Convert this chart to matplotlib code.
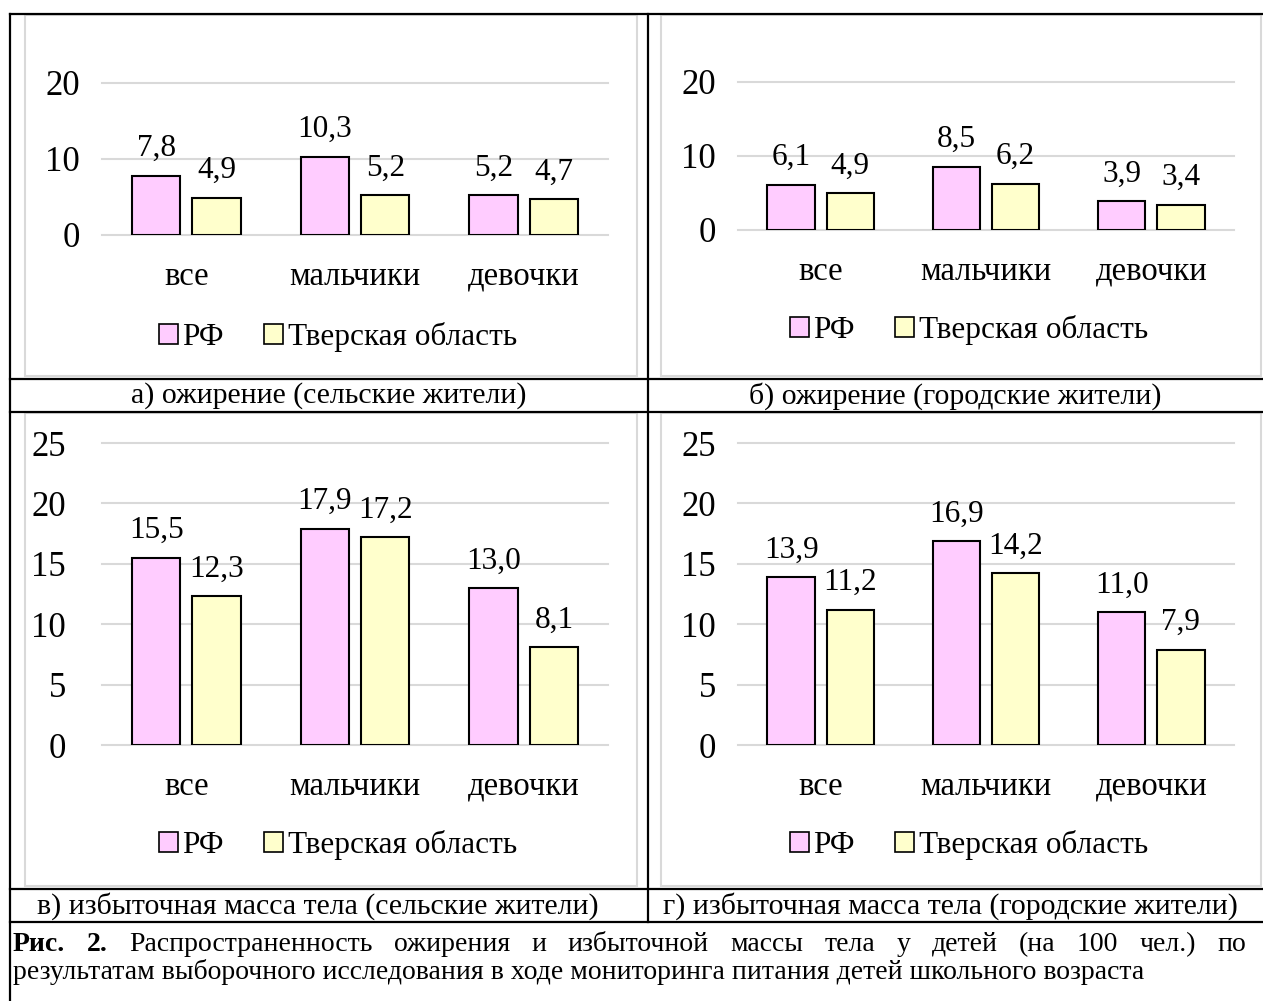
import matplotlib
matplotlib.use("Agg")
import matplotlib.pyplot as plt
from matplotlib.patches import Patch, Rectangle
from matplotlib.lines import Line2D

plt.rcParams["font.family"] = ["Liberation Serif", "DejaVu Serif"]

W, H = 1263, 1001

categories = ["все", "мальчики", "девочки"]
series_names = ["РФ", "Тверская область"]
colors = ["#FFCCFF", "#FFFFCC"]

rf_a = [7.8, 10.3, 5.2]
tver_a = [4.9, 5.2, 4.7]
rf_b = [6.1, 8.5, 3.9]
tver_b = [4.9, 6.2, 3.4]
rf_c = [15.5, 17.9, 13.0]
tver_c = [12.3, 17.2, 8.1]
rf_d = [13.9, 16.9, 11.0]
tver_d = [11.2, 14.2, 7.9]

panel_titles = [
    "а) ожирение (сельские жители)",
    "б) ожирение (городские жители)",
    "в) избыточная масса тела (сельские жители)",
    "г) избыточная масса тела (городские жители)",
]
caption_bold = "Рис. 2."
caption_line1 = ("Распространенность ожирения и избыточной массы тела у детей "
                 "(на 100 чел.) по")
caption_line2 = ("результатам выборочного исследования в ходе мониторинга "
                 "питания детей школьного возраста")


def fx(x):
    return x / W


def fy(y):
    return 1 - y / H


fig = plt.figure(figsize=(W / 100, H / 100), dpi=100)
fig.patch.set_facecolor("white")

# panel layout in pixels: plot box (left, top, right, bottom), frame, legend centre
panels = [
    dict(rf=rf_a, tv=tver_a, ymax=20, step=10, plot=(102, 82.7, 608, 235),
         frame=(25, 15, 637, 376), legend=(338, 337), ypad=16),
    dict(rf=rf_b, tv=tver_b, ymax=20, step=10, plot=(738, 81.7, 1234, 229.7),
         frame=(661, 15, 1261, 376), legend=(969, 330), ypad=16),
    dict(rf=rf_c, tv=tver_c, ymax=25, step=5, plot=(102, 443, 608, 745),
         frame=(25, 413, 637, 886), legend=(338, 845), ypad=26),
    dict(rf=rf_d, tv=tver_d, ymax=25, step=5, plot=(738, 443, 1234, 745),
         frame=(661, 413, 1261, 886), legend=(969, 845), ypad=16),
]

bar_w = 0.286
offset = 0.179
fs = 22.5

for p in panels:
    l, t, r, b = p["plot"]
    ax = fig.add_axes([fx(l), fy(b), (r - l) / W, (b - t) / H])
    x = list(range(len(categories)))
    for vals, col, sgn in [(p["rf"], colors[0], -1), (p["tv"], colors[1], 1)]:
        xs = [i + sgn * offset for i in x]
        bars = ax.bar(xs, vals, width=bar_w, color=col, edgecolor="black",
                      linewidth=1.5, zorder=3)
        for bar, v in zip(bars, vals):
            ax.annotate(f"{v:.1f}".replace(".", ","),
                        (bar.get_x() + bar.get_width() / 2, v),
                        xytext=(0, 9), textcoords="offset points",
                        ha="center", va="bottom", fontsize=fs)
    ax.set_xlim(-0.5, 2.5)
    ax.set_ylim(0, p["ymax"])
    ax.set_yticks(range(0, p["ymax"] + 1, p["step"]))
    ax.set_xticks(x)
    ax.set_xticklabels(categories, fontsize=23.5)
    ax.tick_params(axis="both", length=0)
    ax.tick_params(axis="y", pad=p["ypad"], labelsize=25)
    ax.tick_params(axis="x", pad=19)
    ax.yaxis.grid(True, color="#d9d9d9", linewidth=1.5, zorder=0)
    ax.set_axisbelow(True)
    for s in ax.spines.values():
        s.set_visible(False)
    ax.patch.set_alpha(0)
    for gl in ax.get_ygridlines():
        gl.set_clip_on(False)

    fl, ft, fr, fb = p["frame"]
    fig.patches.append(Rectangle((fx(fl), fy(fb)), (fr - fl) / W, (fb - ft) / H,
                                 transform=fig.transFigure, fill=False,
                                 edgecolor="#d9d9d9", linewidth=1.5))
    handles = [Patch(facecolor=c, edgecolor="black", linewidth=1.2) for c in colors]
    lx, ly = p["legend"]
    fig.legend(handles, series_names, loc="center", bbox_to_anchor=(fx(lx), fy(ly)),
               ncol=2, frameon=False, fontsize=fs, handlelength=0.6,
               handleheight=0.6, handletextpad=0.15, columnspacing=1.3,
               borderaxespad=0)

# table lines
lw = 1.6
for y in [14, 379, 412, 889, 922]:
    fig.add_artist(Line2D([fx(10), fx(1263)], [fy(y), fy(y)], color="black", lw=lw))
fig.add_artist(Line2D([fx(10), fx(10)], [fy(14), fy(1001)], color="black", lw=lw))
fig.add_artist(Line2D([fx(648), fx(648)], [fy(14), fy(922)], color="black", lw=lw))

# panel captions
cap_fs = 21.5
fig.text(fx(329), fy(396), panel_titles[0], ha="center", va="center", fontsize=cap_fs)
fig.text(fx(955), fy(396), panel_titles[1], ha="center", va="center", fontsize=cap_fs)
fig.text(fx(318), fy(906), panel_titles[2], ha="center", va="center", fontsize=cap_fs)
fig.text(fx(950), fy(906), panel_titles[3], ha="center", va="center", fontsize=cap_fs)

# figure caption, first line justified
txt_fs = 20
renderer = fig.canvas.get_renderer()
words = [(w, "bold") for w in caption_bold.split()] + \
        [(w, "normal") for w in caption_line1.split()]
texts = []
total = 0
for w, weight in words:
    t = fig.text(0, 0, w, fontsize=txt_fs, fontweight=weight, va="baseline")
    wpx = t.get_window_extent(renderer).width
    texts.append((t, wpx))
    total += wpx
x0, x1 = 13, 1246
gap = (x1 - x0 - total) / (len(words) - 1)
xpos = x0
for t, wpx in texts:
    t.set_position((fx(xpos), fy(951)))
    xpos += wpx + gap
fig.text(fx(x0), fy(979), caption_line2, fontsize=txt_fs, va="baseline")

fig.savefig("out.png", dpi=100)
